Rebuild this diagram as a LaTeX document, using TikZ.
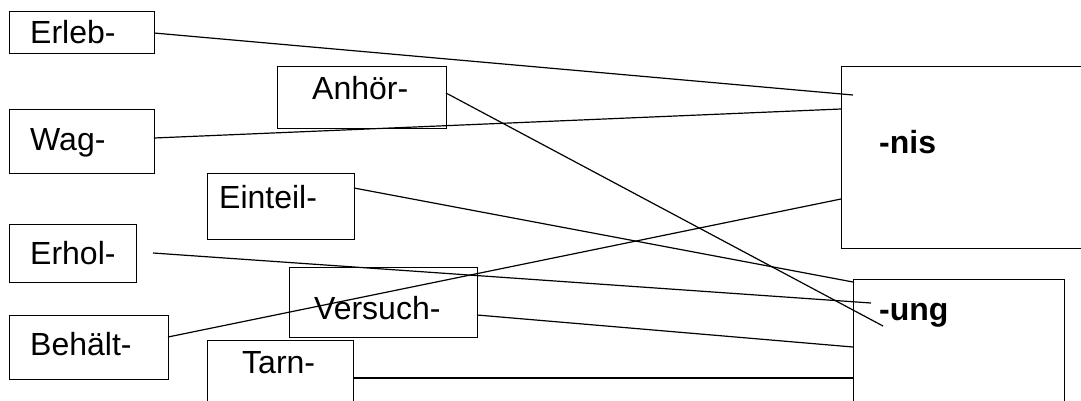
\documentclass[tikz,border=0pt]{standalone}
\usepackage{fontspec}
\setmainfont{Liberation Sans}
\begin{document}
\begin{tikzpicture}[x=1pt,y=-1pt,
  box/.style={draw,line width=1.2pt,inner sep=0pt,anchor=north west},
  lbl/.style={anchor=base west,inner sep=0pt,font=\fontsize{32}{36}\selectfont},
  blbl/.style={lbl,font=\fontsize{32}{36}\selectfont\bfseries},
  conn/.style={line width=1.2pt}]
\useasboundingbox (0,0) rectangle (1081,400);
% boxes
\node[box,minimum width=145pt,minimum height=42pt] (erleb) at (9,11) {};
\node[box,minimum width=169pt,minimum height=62pt] (anhoer) at (277,66) {};
\node[box,minimum width=145pt,minimum height=64pt] (wag) at (9,109) {};
\node[box,minimum width=147pt,minimum height=66pt] (einteil) at (207,173) {};
\node[box,minimum width=127pt,minimum height=58pt] (erhol) at (9,224) {};
\node[box,minimum width=188pt,minimum height=70pt] (versuch) at (289,267) {};
\node[box,minimum width=159pt,minimum height=64pt] (behaelt) at (9,315) {};
\node[box,minimum width=146pt,minimum height=80pt] (tarn) at (207,340) {};
\node[box,minimum width=260pt,minimum height=182pt] (nis) at (841,66) {};
\node[box,minimum width=211pt,minimum height=140pt] (ung) at (853,279) {};
% labels
\node[lbl] (terleb) at (30,43) {Erleb-};
\node[lbl] (tanhoer) at (312,99) {Anhör-};
\node[lbl] (twag) at (30,150) {Wag-};
\node[lbl] (teinteil) at (219,208) {Einteil-};
\node[lbl] (terhol) at (30,264) {Erhol-};
\node[lbl] (tversuch) at (314,319) {Versuch-};
\node[lbl] (tbehaelt) at (30,355) {Behält-};
\node[lbl] (ttarn) at (242,373) {Tarn-};
\node[blbl] (tnis) at (879,153) {-nis};
\node[blbl] (tung) at (879,320) {-ung};
% connector end points
\coordinate (s1) at (154,33);
\coordinate (e1) at (853,95);
\coordinate (s2) at (154,138);
\coordinate (e2) at (841,109);
\coordinate (s3) at (446,93);
\coordinate (e3) at (883,326);
\coordinate (s4) at (354,188);
\coordinate (e4) at (853,282);
\coordinate (s5) at (153,253);
\coordinate (e5) at (871,303);
\coordinate (s6) at (168,337);
\coordinate (e6) at (841,199);
\coordinate (s7) at (477,315);
\coordinate (e7) at (853,347);
\coordinate (s8) at (353,378);
\coordinate (e8) at (853,378);
% connectors
\draw[conn] (s1) -- (e1);
\draw[conn] (s2) -- (e2);
\draw[conn] (s3) -- (e3);
\draw[conn] (s4) -- (e4);
\draw[conn] (s5) -- (e5);
\draw[conn] (s6) -- (e6);
\draw[conn] (s7) -- (e7);
\draw[conn] (s8) -- (e8);
\end{tikzpicture}
\end{document}
